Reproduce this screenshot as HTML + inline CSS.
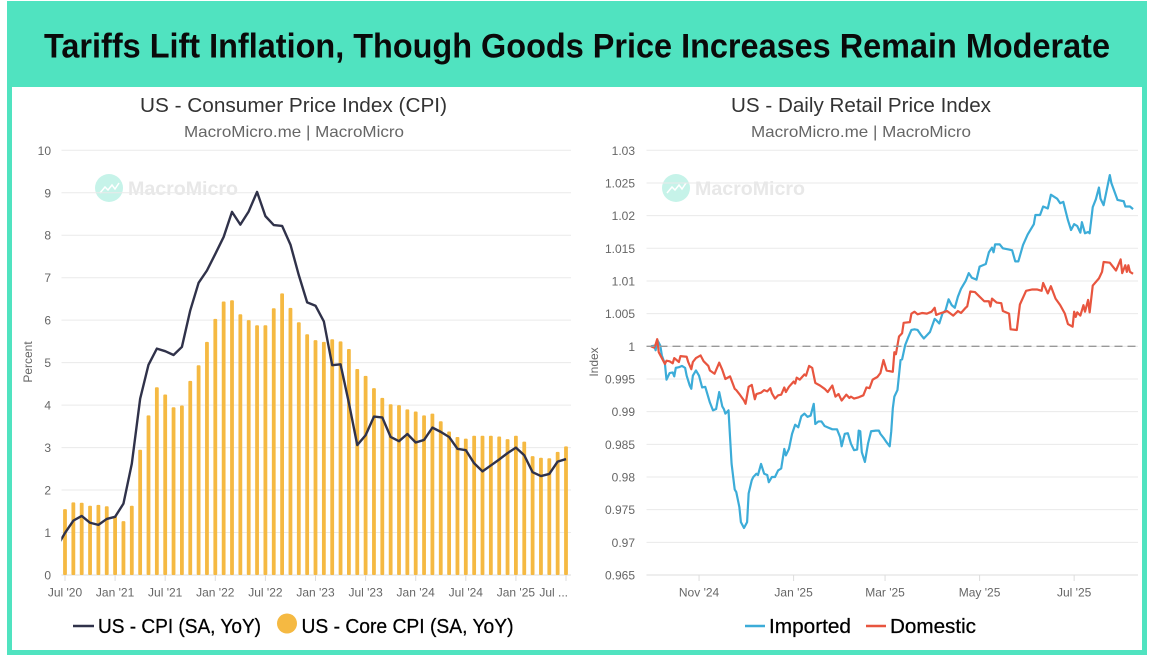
<!DOCTYPE html>
<html lang="en">
<head>
<meta charset="utf-8">
<title>Tariffs Lift Inflation, Though Goods Price Increases Remain Moderate</title>
<style>
html,body{margin:0;padding:0;background:#fff;width:1150px;height:655px;overflow:hidden}
svg{display:block;font-family:"Liberation Sans",sans-serif}
</style>
</head>
<body>
<svg id="root" xmlns="http://www.w3.org/2000/svg" width="1150" height="655" viewBox="0 0 1150 655">
  <defs>
    <clipPath id="cpi-clip"><rect x="61.3" y="140" width="510" height="436"/></clipPath>
  </defs>
  <rect x="0" y="0" width="1150" height="655" fill="#ffffff"/>
  <rect x="7" y="1" width="1140" height="654" fill="#50e3c0"/>
  <rect x="12" y="87" width="1130" height="563" fill="#ffffff"/>
  <text x="44" y="57.5" font-size="34" font-weight="700" fill="#0a0a0a" textLength="1066" lengthAdjust="spacingAndGlyphs">Tariffs Lift Inflation, Though Goods Price Increases Remain Moderate</text>

  <g>
    <text x="140" y="112" font-size="20" fill="#333333" textLength="307" lengthAdjust="spacingAndGlyphs">US - Consumer Price Index (CPI)</text>
    <text x="184" y="137" font-size="16" fill="#666666" textLength="220" lengthAdjust="spacingAndGlyphs">MacroMicro.me | MacroMicro</text>
    <g>
      <circle cx="109" cy="188" r="14" fill="#c6f3e9"/>
      <path d="M100 193l5-6 3 3 4-5 3 4 4-6" fill="none" stroke="#ffffff" stroke-width="1.5"/>
      <text x="128" y="195" font-size="19" font-weight="700" fill="#e8e8e8" textLength="110" lengthAdjust="spacingAndGlyphs">MacroMicro</text>
    </g>
    <g id="cpi-grid"></g>
    <g id="cpi-bars"></g>
    <path id="cpi-line" fill="none" stroke="#30324a" stroke-width="2.4" stroke-linejoin="round" clip-path="url(#cpi-clip)"/>
    <g id="cpi-xaxis"></g>
    <text transform="translate(32,362) rotate(-90)" text-anchor="middle" font-size="12" fill="#666666">Percent</text>
    <g>
      <line x1="73" x2="94" y1="626" y2="626" stroke="#30324a" stroke-width="2.5"/>
      <text x="98" y="633" font-size="20" fill="#000000" stroke="#000000" stroke-width="0.25" textLength="163" lengthAdjust="spacingAndGlyphs">US - CPI (SA, YoY)</text>
      <circle cx="287" cy="623.5" r="10" fill="#f5b942"/>
      <text x="301.5" y="633" font-size="20" fill="#000000" stroke="#000000" stroke-width="0.25" textLength="212" lengthAdjust="spacingAndGlyphs">US - Core CPI (SA, YoY)</text>
    </g>
  </g>

  <g>
    <text x="731" y="112" font-size="20" fill="#333333" textLength="260" lengthAdjust="spacingAndGlyphs">US - Daily Retail Price Index</text>
    <text x="751" y="137" font-size="16" fill="#666666" textLength="220" lengthAdjust="spacingAndGlyphs">MacroMicro.me | MacroMicro</text>
    <g>
      <circle cx="676" cy="188" r="14" fill="#c6f3e9"/>
      <path d="M667 193l5-6 3 3 4-5 3 4 4-6" fill="none" stroke="#ffffff" stroke-width="1.5"/>
      <text x="695" y="195" font-size="19" font-weight="700" fill="#e8e8e8" textLength="110" lengthAdjust="spacingAndGlyphs">MacroMicro</text>
    </g>
    <g id="retail-grid"></g>
    <path id="imported-line" fill="none" stroke="#3cacd8" stroke-width="2.2" stroke-linejoin="round"/>
    <path id="domestic-line" fill="none" stroke="#e8553f" stroke-width="2.2" stroke-linejoin="round"/>
    <line id="retail-baseline" stroke="#999999" stroke-width="1.4" stroke-dasharray="8 5"/>
    <g id="retail-xaxis"></g>
    <text transform="translate(598,362) rotate(-90)" text-anchor="middle" font-size="12" fill="#666666">Index</text>
    <g>
      <line x1="745" x2="765" y1="626" y2="626" stroke="#3cacd8" stroke-width="2.5"/>
      <text x="769" y="633" font-size="20" fill="#000000" stroke="#000000" stroke-width="0.25" textLength="82" lengthAdjust="spacingAndGlyphs">Imported</text>
      <line x1="866" x2="886" y1="626" y2="626" stroke="#e8553f" stroke-width="2.5"/>
      <text x="890" y="633" font-size="20" fill="#000000" stroke="#000000" stroke-width="0.25" textLength="86" lengthAdjust="spacingAndGlyphs">Domestic</text>
    </g>
  </g>
</svg>

<script>
// ---- CPI chart data (monthly, Jul '20 = month 0) ----
const coreCpi = [
  1.55,1.71,1.70,1.63,1.65,1.62,1.38,1.27,1.63,2.95,
  3.76,4.42,4.25,3.95,3.99,4.57,4.94,5.49,6.03,6.44,
  6.47,6.14,6.00,5.88,5.88,6.28,6.63,6.29,5.95,5.67,
  5.53,5.49,5.55,5.50,5.32,4.85,4.69,4.40,4.17,4.02,
  4.00,3.90,3.85,3.76,3.80,3.62,3.38,3.25,3.21,3.28,
  3.28,3.28,3.26,3.20,3.28,3.14,2.80,2.76,2.75,2.90,3.03
];
// First value is Jun '20, which sits left of the plot edge and is clipped.
const cpi = [
  0.65,0.99,1.28,1.39,1.23,1.18,1.32,1.37,1.68,2.62,4.15,
  4.95,5.33,5.27,5.18,5.37,6.23,6.88,7.17,7.56,7.96,
  8.55,8.25,8.56,9.02,8.45,8.24,8.22,7.78,7.06,6.42,
  6.34,5.97,4.94,4.96,4.05,3.06,3.29,3.73,3.71,3.25,
  3.15,3.32,3.12,3.18,3.47,3.37,3.25,2.97,2.94,2.63,
  2.44,2.58,2.72,2.87,3.00,2.82,2.42,2.33,2.38,2.67,2.73
];
const cpiTickValues = [0,1,2,3,4,5,6,7,8,9,10];
const cpiTickMonths = [0,6,12,18,24,30,36,42,48,54,60];
const cpiTickLabels = ["Jul '20","Jan '21","Jul '21","Jan '22","Jul '22","Jan '23","Jul '23","Jan '24","Jul '24","Jan '25","Jul ..."];

// ---- Retail price chart data (days since Oct 1 '24) ----
const importedDays = [
  0,2,3,4,6,7,9,10,12,14,
  15,16,18,20,22,23,25,26,27,29,
  31,33,35,36,38,40,42,44,46,47,
  48,50,51,52,54,55,57,58,60,62,
  63,65,66,68,69,71,73,75,76,78,
  80,82,84,86,87,89,91,93,95,97,
  99,101,103,105,106,108,110,112,114,117,
  120,122,123,125,127,129,131,133,134,135,
  136,138,140,142,145,147,148,150,152,154,
  155,156,157,159,161,162,164,166,168,170,
  172,174,176,178,180,183,184,186,188,190,
  192,194,196,198,200,203,205,207,210,212,
  216,218,220,221,222,225,227,231,233,235,
  237,240,243,247,248,251,253,256,258,262,
  264,266,269,271,273,275,277,278,280,282,
  283,285,287,289,290,292,296,297,301,305,
  306,309,311
];
const importedValues = [
  1.0000,1.0001,0.9994,1.0010,1.0001,0.9986,0.9973,0.9949,0.9959,0.9960,
  0.9954,0.9967,0.9968,0.9970,0.9967,0.9955,0.9940,0.9935,0.9955,0.9963,
  0.9955,0.9937,0.9938,0.9930,0.9914,0.9902,0.9904,0.9930,0.9908,0.9904,
  0.9897,0.9902,0.9861,0.9820,0.9781,0.9777,0.9754,0.9731,0.9722,0.9731,
  0.9775,0.9795,0.9800,0.9805,0.9803,0.9820,0.9805,0.9803,0.9792,0.9800,
  0.9800,0.9810,0.9813,0.9843,0.9833,0.9843,0.9866,0.9880,0.9876,0.9893,
  0.9897,0.9892,0.9894,0.9912,0.9881,0.9885,0.9885,0.9878,0.9876,0.9873,
  0.9873,0.9861,0.9847,0.9866,0.9867,0.9851,0.9841,0.9842,0.9871,0.9870,
  0.9838,0.9823,0.9851,0.9870,0.9871,0.9871,0.9866,0.9860,0.9853,0.9847,
  0.9870,0.9905,0.9923,0.9933,0.9979,0.9980,1.0002,1.0014,1.0025,1.0026,
  1.0025,1.0018,1.0012,1.0017,1.0022,1.0042,1.0040,1.0035,1.0050,1.0055,
  1.0072,1.0063,1.0059,1.0076,1.0088,1.0100,1.0112,1.0105,1.0102,1.0122,
  1.0126,1.0144,1.0151,1.0144,1.0156,1.0156,1.0150,1.0148,1.0147,1.0130,
  1.0130,1.0155,1.0171,1.0187,1.0201,1.0201,1.0214,1.0211,1.0232,1.0226,
  1.0219,1.0221,1.0193,1.0178,1.0187,1.0184,1.0174,1.0190,1.0173,1.0175,
  1.0173,1.0213,1.0225,1.0243,1.0226,1.0216,1.0262,1.0250,1.0224,1.0222,
  1.0214,1.0214,1.0210
];
const domesticDays = [
  0,2,3,4,5,7,9,10,12,14,
  15,18,19,23,24,26,27,29,32,34,
  37,38,41,44,46,48,51,54,55,57,
  60,61,63,65,67,68,71,73,75,77,
  78,80,82,84,86,87,89,92,93,94,
  96,99,100,102,104,106,109,112,114,117,
  119,121,123,126,128,129,131,134,137,139,
  141,143,146,148,150,152,156,157,158,160,
  162,163,167,168,170,172,175,178,181,183,
  184,186,191,195,198,200,203,204,206,209,
  212,215,218,219,220,223,226,227,231,232,
  236,238,242,246,249,252,253,256,258,261,
  264,267,269,272,273,274,275,277,279,280,
  282,283,285,289,291,292,296,300,303,304,
  306,307,308,309,311
];
const domesticValues = [
  1.0000,0.9998,1.0003,1.0011,0.9991,0.9982,0.9973,0.9978,0.9977,0.9974,
  0.9982,0.9976,0.9985,0.9984,0.9976,0.9965,0.9976,0.9982,0.9986,0.9977,
  0.9970,0.9963,0.9958,0.9975,0.9964,0.9950,0.9954,0.9935,0.9933,0.9927,
  0.9917,0.9912,0.9938,0.9941,0.9919,0.9927,0.9929,0.9933,0.9931,0.9936,
  0.9928,0.9920,0.9925,0.9926,0.9937,0.9930,0.9938,0.9946,0.9943,0.9952,
  0.9949,0.9957,0.9955,0.9970,0.9967,0.9944,0.9940,0.9935,0.9930,0.9940,
  0.9923,0.9927,0.9917,0.9926,0.9921,0.9923,0.9920,0.9922,0.9925,0.9937,
  0.9936,0.9949,0.9953,0.9959,0.9979,0.9963,0.9961,0.9991,0.9988,1.0015,
  1.0020,1.0036,1.0037,1.0050,1.0053,1.0049,1.0051,1.0050,1.0053,1.0059,
  1.0048,1.0050,1.0054,1.0047,1.0054,1.0051,1.0059,1.0061,1.0084,1.0083,
  1.0076,1.0069,1.0069,1.0061,1.0073,1.0067,1.0066,1.0054,1.0050,1.0026,
  1.0025,1.0064,1.0085,1.0087,1.0087,1.0085,1.0097,1.0081,1.0092,1.0073,
  1.0063,1.0050,1.0034,1.0030,1.0053,1.0045,1.0052,1.0047,1.0063,1.0053,
  1.0071,1.0052,1.0093,1.0104,1.0114,1.0129,1.0128,1.0116,1.0133,1.0112,
  1.0124,1.0114,1.0124,1.0114,1.0111
];
const retailTickValues = [0.965,0.97,0.975,0.98,0.985,0.99,0.995,1,1.005,1.01,1.015,1.02,1.025,1.03];
const retailTickLabels = ["0.965","0.97","0.975","0.98","0.985","0.99","0.995","1","1.005","1.01","1.015","1.02","1.025","1.03"];
const retailTickDays = [31,92,151,212,273];
const retailTickDates = ["Nov '24","Jan '25","Mar '25","May '25","Jul '25"];

const SVGNS = "http://www.w3.org/2000/svg";
function make(tag, attrs, parent, content) {
  const el = document.createElementNS(SVGNS, tag);
  for (const k in attrs) el.setAttribute(k, attrs[k]);
  if (content !== undefined) el.textContent = content;
  parent.appendChild(el);
  return el;
}

// ---- axis functions ----
const cpiX = m => 65 + 8.35 * m;
const cpiY = v => 575 - 42.47 * v;
const retailX = d => 651 + 1.55 * d;
const retailY = v => 150.3 + (1.03 - v) / 0.065 * 424.7;
const linePath = pts => pts.map((p, i) => (i ? "L" : "M") + p[0].toFixed(2) + " " + p[1].toFixed(2)).join("");

// ---- CPI chart ----
const cpiGrid = document.getElementById("cpi-grid");
cpiTickValues.forEach(v => {
  const line = make("line", {x1: 61.5, x2: 571, y1: cpiY(v), y2: cpiY(v), stroke: v === 0 ? "#dddddd" : "#eaeaea", "stroke-width": 1}, cpiGrid);
  
  
  const label = make("text", {x: 51, y: cpiY(v) + 4.5, "text-anchor": "end", "font-size": 12, fill: "#666666"}, cpiGrid, String(v));
  
  
});
const cpiBars = document.getElementById("cpi-bars");
coreCpi.forEach((v, i) => {
  const bar = make("rect", {x: cpiX(i) - 1.9, y: cpiY(v), width: 3.8, height: cpiY(0) - cpiY(v), rx: 1, fill: "#f5b942"}, cpiBars);
  
  
});
document.getElementById("cpi-line").setAttribute("d", linePath(cpi.map((v, i) => [cpiX(i - 1), cpiY(v)])));
const cpiXAxis = document.getElementById("cpi-xaxis");
cpiTickMonths.forEach((m, i) => {
  const tick = make("line", {x1: cpiX(m), x2: cpiX(m), y1: 575, y2: 581, stroke: "#dddddd", "stroke-width": 1}, cpiXAxis);
  
  
  const isLast = i === cpiTickMonths.length - 1;
  const label = make("text", {x: isLast ? 568 : cpiX(m), y: 596.5, "text-anchor": isLast ? "end" : "middle", "font-size": 12, fill: "#666666"}, cpiXAxis, cpiTickLabels[i]);
  
  
});

// ---- Retail chart ----
const retailGrid = document.getElementById("retail-grid");
retailTickValues.forEach((v, i) => {
  const line = make("line", {x1: 646.5, x2: 1138, y1: retailY(v), y2: retailY(v), stroke: i === 0 ? "#dddddd" : "#eaeaea", "stroke-width": 1}, retailGrid);
  
  
  const label = make("text", {x: 635, y: retailY(v) + 4.5, "text-anchor": "end", "font-size": 12, fill: "#666666"}, retailGrid, retailTickLabels[i]);
  
  
});
const baseline = document.getElementById("retail-baseline");
baseline.setAttribute("x1", 646.5);
baseline.setAttribute("x2", 1138);
baseline.setAttribute("y1", retailY(1));
baseline.setAttribute("y2", retailY(1));
document.getElementById("imported-line").setAttribute("d", linePath(importedValues.map((v, i) => [retailX(importedDays[i]), retailY(v)])));
document.getElementById("domestic-line").setAttribute("d", linePath(domesticValues.map((v, i) => [retailX(domesticDays[i]), retailY(v)])));
const retailXAxis = document.getElementById("retail-xaxis");
retailTickDays.forEach((d, i) => {
  const tick = make("line", {x1: retailX(d), x2: retailX(d), y1: 575, y2: 581, stroke: "#dddddd", "stroke-width": 1}, retailXAxis);
  
  
  const label = make("text", {x: retailX(d), y: 596.5, "text-anchor": "middle", "font-size": 12, fill: "#666666"}, retailXAxis, retailTickDates[i]);
  
  
});
</script>
</body>
</html>
